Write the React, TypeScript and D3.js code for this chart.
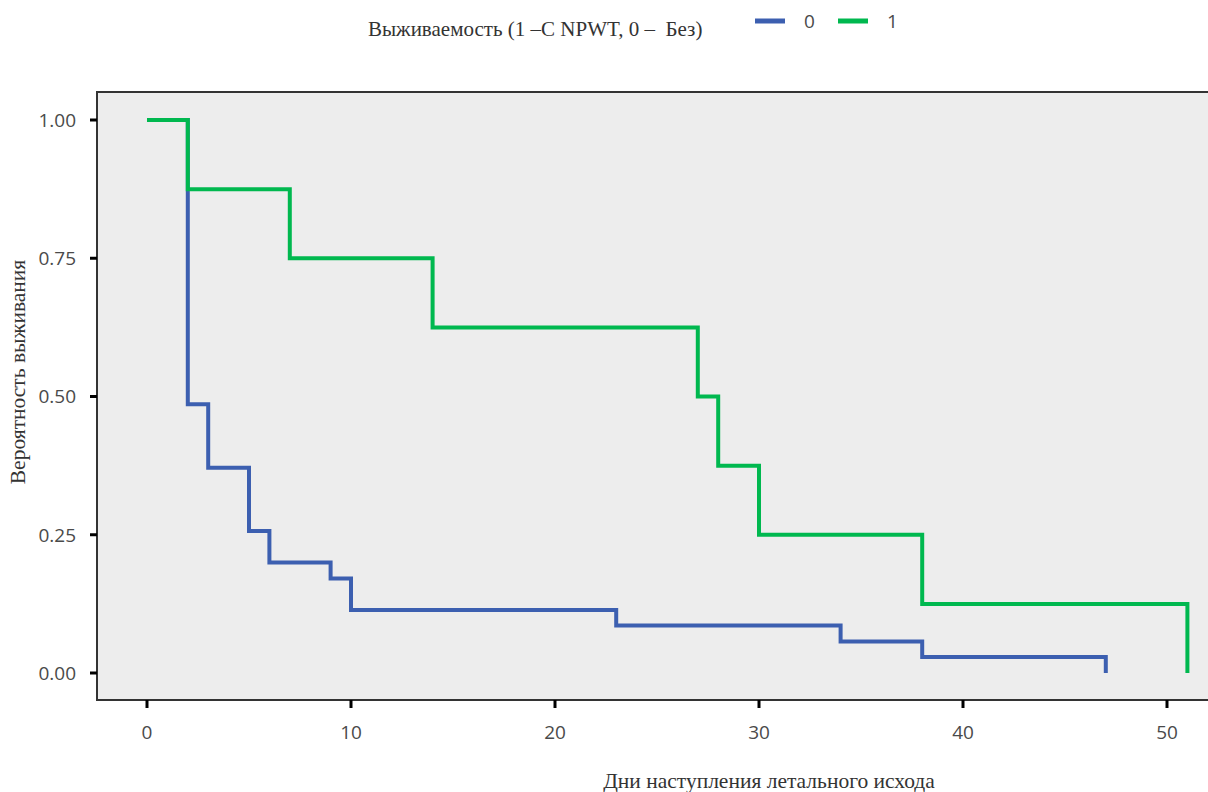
import React from 'react'
import * as d3 from 'd3'

// Kaplan-Meier steps (time in days, survival probability)
const daysGreen = [0, 2, 7, 14, 27, 28, 30, 38, 51]
const survGreen = [1, 0.875, 0.75, 0.625, 0.5, 0.375, 0.25, 0.125, 0]

const daysBlue = [0, 2, 3, 5, 6, 9, 10, 23, 34, 38, 47]
const survBlue = [1, 0.486, 0.371, 0.257, 0.2, 0.171, 0.114, 0.086, 0.057, 0.029, 0]

const xTicks = [0, 10, 20, 30, 40, 50]
const yTicks = [0, 0.25, 0.5, 0.75, 1]

const legendKeys = ['0', '1']
const colors = ['#3c5fb0', '#00b84f']

const App = () => {
  const width = 1208
  const height = 792
  const panel = {left: 97, top: 92, right: 1212, bottom: 700}

  const x = d3.scaleLinear().domain([0, 50]).range([147, 1167])
  const y = d3.scaleLinear().domain([0, 1]).range([673, 120])

  const line = d3.line<[number, number]>()
    .x(d => x(d[0]))
    .y(d => y(d[1]))
    .curve(d3.curveStepAfter)

  const blue = daysBlue.map((t, i) => [t, survBlue[i]] as [number, number])
  const green = daysGreen.map((t, i) => [t, survGreen[i]] as [number, number])

  const sans = '"Open Sans", "DejaVu Sans", sans-serif'
  const serif = '"Liberation Serif", "DejaVu Serif", serif'

  return (
    <svg width={width} height={height}
      style={{position: 'absolute', left: 0, top: 0, background: '#fff'}}>
      {/* panel */}
      <rect x={panel.left} y={panel.top} width={panel.right - panel.left}
        height={panel.bottom - panel.top} fill="#ededed" stroke="#333" strokeWidth={2} />

      {/* y axis */}
      {yTicks.map(v => (
        <g key={v}>
          <line x1={panel.left - 7} x2={panel.left} y1={y(v)} y2={y(v)} stroke="#000" strokeWidth={3} />
          <text x={76} y={y(v)} dy="0.36em" textAnchor="end" fontFamily={sans}
            fontSize={19} fill="#4a4a4a">{d3.format('.2f')(v)}</text>
        </g>
      ))}

      {/* x axis */}
      {xTicks.map(v => (
        <g key={v}>
          <line x1={x(v)} x2={x(v)} y1={panel.bottom} y2={panel.bottom + 8} stroke="#000" strokeWidth={3} />
          <text x={x(v)} y={739} textAnchor="middle" fontFamily={sans}
            fontSize={19} fill="#4a4a4a">{v}</text>
        </g>
      ))}

      {/* curves */}
      <path d={line(blue) || ''} fill="none" stroke={colors[0]} strokeWidth={4} strokeLinejoin="miter" />
      <path d={line(green) || ''} fill="none" stroke={colors[1]} strokeWidth={4} strokeLinejoin="miter" />

      {/* axis titles */}
      <text x={769} y={788} textAnchor="middle" fontFamily={serif} fontSize={21.5} fill="#333">
        Дни наступления летального исхода
      </text>
      <text transform="translate(25,372) rotate(-90)" textAnchor="middle" fontFamily={serif}
        fontSize={21.5} fill="#333">
        Вероятность выживания
      </text>

      {/* legend */}
      <text x={368} y={36} fontFamily={serif} fontSize={21} fill="#333" xmlSpace="preserve">
        Выживаемость (1 –С NPWT, 0 –  Без)
      </text>
      {legendKeys.map((k, i) => (
        <g key={k} transform={`translate(${755 + i * 83},0)`}>
          <line x1={0} x2={30} y1={21} y2={21} stroke={colors[i]} strokeWidth={5} />
          <text x={49} y={28} fontFamily={sans} fontSize={19} fill="#4a4a4a">{k}</text>
        </g>
      ))}
    </svg>
  )
}

export default App
